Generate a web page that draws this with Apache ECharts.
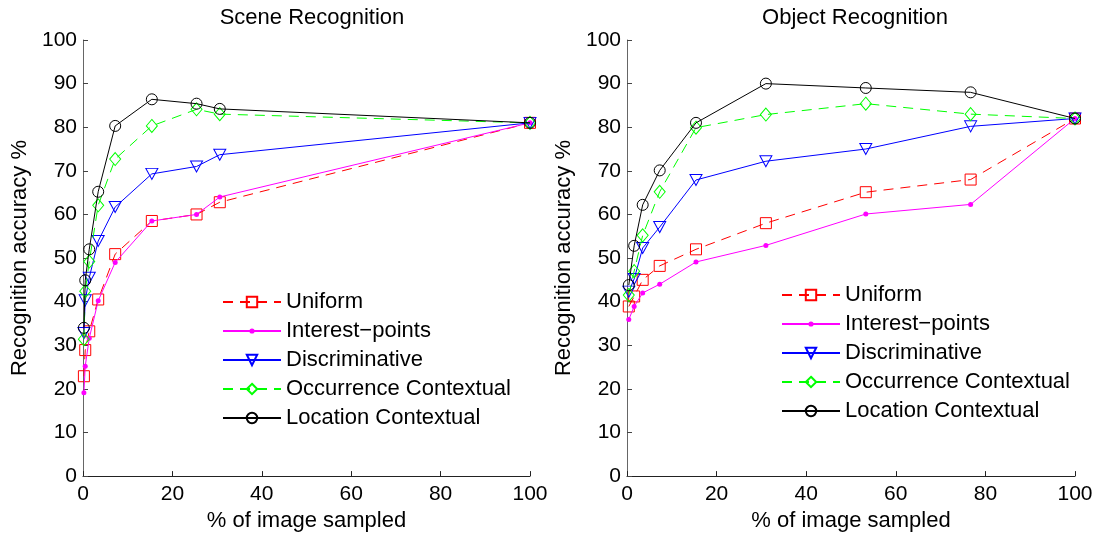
<!DOCTYPE html>
<html>
<head>
<meta charset="utf-8">
<script src="https://cdn.jsdelivr.net/npm/echarts@6/dist/echarts.min.js"></script>
<style>
html,body{margin:0;padding:0;background:#fff;}
#chart{width:1101px;height:537px;}
</style>
</head>
<body>
<div id="chart"></div>
<script>
// ---- data ----
var seriesNames = ['Uniform', 'Interest\u2212points', 'Discriminative', 'Occurrence Contextual', 'Location Contextual'];
var xTicks = [0, 20, 40, 60, 80, 100];
var yTicks = [0, 10, 20, 30, 40, 50, 60, 70, 80, 90, 100];

var sceneX = [0.2, 0.5, 1.4, 3.4, 7.2, 15.4, 25.4, 30.6, 100];
var sceneUniform = [22.9, 28.9, 33.2, 40.5, 50.9, 58.5, 60.0, 62.8, 81];
var sceneInterest = [19.1, 25.2, 31.6, 40.2, 49.0, 58.5, 60.0, 64.0, 81];
var sceneDiscriminative = [32.8, 40.3, 45.5, 53.9, 61.7, 69.3, 71.0, 73.7, 81];
var sceneOccurrence = [31.4, 42.4, 49.2, 62.1, 72.7, 80.3, 84.1, 83.0, 81];
var sceneLocation = [34.0, 44.9, 52.0, 65.2, 80.3, 86.4, 85.4, 84.2, 81];

var objectX = [0.4, 1.6, 3.5, 7.3, 15.4, 31.0, 53.3, 76.7, 100];
var objectUniform = [38.9, 41.2, 45.0, 48.2, 52.0, 58.0, 65.1, 68.0, 82];
var objectInterest = [35.9, 38.9, 42.0, 44.0, 49.1, 52.9, 60.1, 62.3, 82];
var objectDiscriminative = [42.3, 45.2, 52.3, 57.1, 67.9, 72.2, 75.0, 80.2, 82];
var objectOccurrence = [41.5, 47.0, 55.2, 65.2, 79.9, 82.9, 85.4, 83.0, 82];
var objectLocation = [43.8, 52.8, 62.2, 70.1, 81.0, 90.0, 89.0, 88.0, 82];

// ---- styles ----
var FONT = 'Liberation Sans, Arial, Helvetica, sans-serif';
// small dot centred in a larger (invisible) box so the legend icon stays small
var DOT = 'path://M0,0M10,10M2.5,5A2.5,2.5,0,1,0,7.5,5A2.5,2.5,0,1,0,2.5,5Z';
var styles = [
  {color: '#ff0000', dash: [10, 7], symbol: 'rect', size: 11, fill: 'transparent', rotate: 0},
  {color: '#ff00ff', dash: 'solid', symbol: DOT, size: 10, fill: '#ff00ff', rotate: 0},
  {color: '#0000ff', dash: 'solid', symbol: 'triangle', size: [12, 11], fill: 'transparent', rotate: 180},
  {color: '#00ff00', dash: [10, 7], symbol: 'diamond', size: [11, 13], fill: 'transparent', rotate: 0},
  {color: '#000000', dash: 'solid', symbol: 'circle', size: 11, fill: 'transparent', rotate: 0}
];

function pairs(xs, ys) {
  return xs.map(function (x, i) { return [x, ys[i]]; });
}

function makeSeries(idx, xs, lists) {
  return lists.map(function (ys, k) {
    var s = styles[k];
    return {
      name: seriesNames[k],
      type: 'line',
      xAxisIndex: idx,
      yAxisIndex: idx,
      data: pairs(xs, ys),
      symbol: s.symbol,
      symbolSize: s.size,
      symbolRotate: s.rotate,
      showAllSymbol: true,
      clip: false,
      z: 2 + k,
      lineStyle: {color: s.color, width: 1, type: s.dash},
      itemStyle: {color: s.fill, borderColor: s.color, borderWidth: k === 1 ? 0 : 1}
    };
  });
}

function makeX(idx) {
  return {
    type: 'value', gridIndex: idx, min: 0, max: 100, interval: 20,
    name: '% of image sampled', nameLocation: 'middle', nameGap: 31,
    nameTextStyle: {fontFamily: FONT, fontSize: 22, color: '#000'},
    axisLine: {show: true, onZero: false, lineStyle: {color: '#222', width: 1}},
    axisTick: {show: true, inside: true, length: 5, lineStyle: {color: '#222'}},
    axisLabel: {fontFamily: FONT, fontSize: 21, color: '#000', margin: 8,
      formatter: function (v) { return xTicks.indexOf(v) >= 0 ? String(v) : ''; }},
    splitLine: {show: false}
  };
}

function makeY(idx) {
  return {
    type: 'value', gridIndex: idx, min: 0, max: 100, interval: 10,
    name: 'Recognition accuracy %', nameLocation: 'middle', nameGap: 52, nameRotate: 90,
    nameTextStyle: {fontFamily: FONT, fontSize: 22, color: '#000'},
    axisLine: {show: true, onZero: false, lineStyle: {color: '#666', width: 1}},
    axisTick: {show: true, inside: true, length: 5, lineStyle: {color: '#444'}},
    axisLabel: {fontFamily: FONT, fontSize: 21, color: '#000', margin: 6,
      formatter: function (v) { return yTicks.indexOf(v) >= 0 ? String(v) : ''; }},
    splitLine: {show: false}
  };
}

function makeLegend(left, top) {
  return {
    data: seriesNames.slice(),
    orient: 'vertical',
    left: left, top: top,
    itemWidth: 58, itemHeight: 13, itemGap: 7,
    selectedMode: false,
    textStyle: {fontFamily: FONT, fontSize: 22, color: '#000', lineHeight: 22},
    padding: 0
  };
}

var chart = echarts.init(document.getElementById('chart'), null, {renderer: 'canvas'});
chart.setOption({
  animation: false,
  backgroundColor: '#fff',
  title: [
    {text: 'Scene Recognition', left: 307, top: 2, textAlign: 'center',
      textStyle: {fontFamily: FONT, fontSize: 22, fontWeight: 'normal', color: '#000'}},
    {text: 'Object Recognition', left: 850, top: 2, textAlign: 'center',
      textStyle: {fontFamily: FONT, fontSize: 22, fontWeight: 'normal', color: '#000'}}
  ],
  legend: [makeLegend(222, 291), makeLegend(781, 284)],
  grid: [
    {left: 83, right: 571, top: 40, bottom: 57, containLabel: false},
    {left: 627, right: 26, top: 40, bottom: 57, containLabel: false}
  ],
  xAxis: [makeX(0), makeX(1)],
  yAxis: [makeY(0), makeY(1)],
  series: makeSeries(0, sceneX, [sceneUniform, sceneInterest, sceneDiscriminative, sceneOccurrence, sceneLocation])
    .concat(makeSeries(1, objectX, [objectUniform, objectInterest, objectDiscriminative, objectOccurrence, objectLocation]))
});
</script>
</body>
</html>
